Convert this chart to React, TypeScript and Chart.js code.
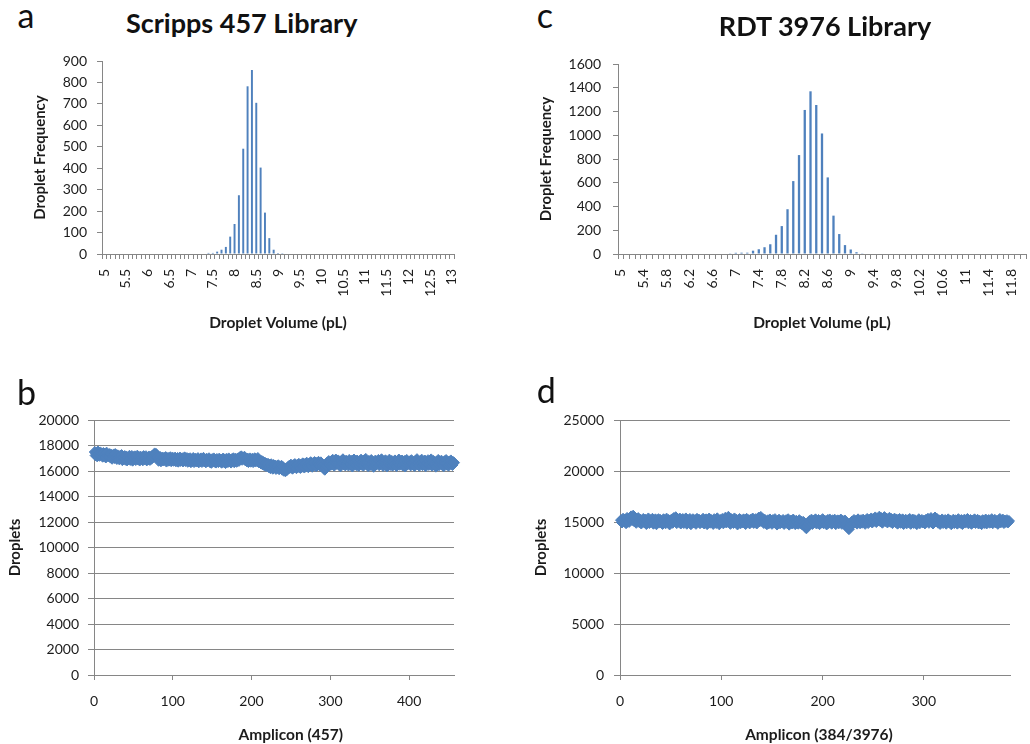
import React, { useEffect, useRef } from "react";
import { Chart, registerables } from "chart.js";

Chart.register(...registerables);

const BLUE = "#4F81BD";
const AXIS = "#868686";
const INK = "#1c1c1c";
const FONT = "Lato, 'Open Sans', sans-serif";

Chart.defaults.font.family = FONT;
Chart.defaults.color = INK;

// ---------- Panel a: Scripps 457 Library, droplet volume histogram ----------
const volumeA = [
  5, 5.1, 5.2, 5.3, 5.4, 5.5, 5.6, 5.7, 5.8, 5.9,
  6, 6.1, 6.2, 6.3, 6.4, 6.5, 6.6, 6.7, 6.8, 6.9,
  7, 7.1, 7.2, 7.3, 7.4, 7.5, 7.6, 7.7, 7.8, 7.9,
  8, 8.1, 8.2, 8.3, 8.4, 8.5, 8.6, 8.7, 8.8, 8.9,
  9, 9.1, 9.2, 9.3, 9.4, 9.5, 9.6, 9.7, 9.8, 9.9,
  10, 10.1, 10.2, 10.3, 10.4, 10.5, 10.6, 10.7, 10.8, 10.9,
  11, 11.1, 11.2, 11.3, 11.4, 11.5, 11.6, 11.7, 11.8, 11.9,
  12, 12.1, 12.2, 12.3, 12.4, 12.5, 12.6, 12.7, 12.8, 12.9,
  13,
];
const frequencyA = [
  0, 0, 0, 0, 0, 0, 0, 0, 0, 0,
  0, 0, 0, 0, 0, 0, 0, 0, 0, 0,
  0, 0, 0, 0, 5, 5, 11, 20, 33, 81,
  140, 274, 491, 782, 858, 705, 403, 193, 74, 20,
  5, 4, 0, 0, 0, 0, 0, 0, 0, 0,
  0, 0, 0, 0, 0, 0, 0, 0, 0, 0,
  0, 0, 0, 0, 0, 0, 0, 0, 0, 0,
  0, 0, 0, 0, 0, 0, 0, 0, 0, 0,
  0,
];
const labelEveryA = 5;

// ---------- Panel c: RDT 3976 Library, droplet volume histogram ----------
const volumeC = [
  5, 5.1, 5.2, 5.3, 5.4, 5.5, 5.6, 5.7, 5.8, 5.9,
  6, 6.1, 6.2, 6.3, 6.4, 6.5, 6.6, 6.7, 6.8, 6.9,
  7, 7.1, 7.2, 7.3, 7.4, 7.5, 7.6, 7.7, 7.8, 7.9,
  8, 8.1, 8.2, 8.3, 8.4, 8.5, 8.6, 8.7, 8.8, 8.9,
  9, 9.1, 9.2, 9.3, 9.4, 9.5, 9.6, 9.7, 9.8, 9.9,
  10, 10.1, 10.2, 10.3, 10.4, 10.5, 10.6, 10.7, 10.8, 10.9,
  11, 11.1, 11.2, 11.3, 11.4, 11.5, 11.6, 11.7, 11.8, 11.9,
  12,
];
const frequencyC = [
  0, 0, 0, 0, 0, 0, 0, 0, 0, 0,
  0, 0, 0, 0, 0, 0, 0, 4, 0, 6,
  10, 11, 11, 28, 40, 57, 82, 162, 235, 377,
  614, 833, 1213, 1370, 1255, 1015, 645, 323, 168, 75,
  38, 15, 6, 0, 0, 0, 0, 0, 0, 0,
  0, 0, 0, 0, 0, 0, 0, 0, 0, 0,
  0, 0, 0, 0, 0, 0, 0, 0, 0, 0,
  0,
];
const labelEveryC = 4;

// ---------- Panel b: droplets per amplicon (457 amplicons) ----------
const dropletsB = [
  17490, 17220, 17400, 17150, 17530, 17300, 17190, 17460, 17280, 17380,
  17120, 17410, 17230, 17350, 17060, 17440, 17200, 17300, 17150, 17330,
  17050, 17270, 16960, 17190, 17300, 17020, 17330, 17110, 16940, 17230,
  17080, 16920, 17180, 17010, 17250, 16850, 17100, 16960, 17170, 16880,
  17140, 16830, 17060, 16950, 17190, 16870, 17020, 17180, 16810, 17090,
  16940, 17150, 16860, 17030, 17200, 16900, 17080, 16820, 17130, 16970,
  17060, 16840, 17170, 16920, 17010, 17160, 16830, 17050, 16910, 17140,
  16870, 17090, 16960, 17200, 17100, 17280, 17380, 17220, 17330, 17150,
  17050, 16800, 16990, 17100, 16760, 16930, 17060, 16820, 17010, 16880,
  17090, 16740, 16950, 17030, 16810, 16980, 17080, 16770, 16920, 17040,
  16800, 16970, 17050, 16760, 16900, 17020, 16730, 16950, 17060, 16790,
  16880, 17000, 16750, 16930, 17070, 16780, 16850, 17010, 16720, 16960,
  16800, 17000, 16690, 16910, 16780, 17020, 16700, 16880, 16960, 16740,
  16850, 17010, 16680, 16900, 16770, 16990, 16710, 16870, 17030, 16750,
  16880, 16680, 16960, 16770, 16850, 17000, 16700, 16890, 16640, 16930,
  16780, 16990, 16720, 16860, 16660, 16940, 16800, 16700, 16970, 16760,
  16900, 16650, 16840, 16980, 16710, 16870, 16620, 16950, 16790, 16700,
  16990, 16740, 16880, 16660, 16930, 16780, 17000, 16690, 16850, 16960,
  16720, 16880, 16990, 16790, 17080, 16950, 17150, 16880, 17060, 16970,
  17120, 16840, 16930, 16760, 16980, 16700, 16870, 16990, 16730, 16900,
  16960, 16700, 16850, 17000, 16740, 16910, 16800, 17020, 16690, 16840,
  16720, 16590, 16780, 16520, 16700, 16460, 16650, 16400, 16580, 16370,
  16560, 16300, 16480, 16220, 16530, 16350, 16180, 16470, 16290, 16420,
  16160, 16380, 16250, 16450, 16140, 16330, 16230, 16410, 16100, 16300,
  16020, 16200, 15980, 16150, 16080, 16300, 16200, 16420, 16260, 16500,
  16330, 16180, 16460, 16290, 16540, 16350, 16220, 16480, 16310, 16560,
  16380, 16240, 16510, 16330, 16600, 16420, 16270, 16560, 16390, 16650,
  16450, 16300, 16580, 16420, 16690, 16480, 16330, 16610, 16460, 16700,
  16500, 16370, 16640, 16480, 16720, 16530, 16410, 16680, 16560, 16450,
  16300, 16180, 16100, 16250, 16420, 16660, 16530, 16780, 16600, 16480,
  16750, 16500, 16880, 16580, 16420, 16710, 16900, 16560, 16650, 16830,
  16470, 16690, 16370, 16780, 16600, 16920, 16520, 16700, 16440, 16810,
  16580, 16740, 16430, 16870, 16640, 16510, 16790, 16350, 16680, 16900,
  16550, 16720, 16460, 16820, 16610, 16400, 16760, 16570, 16890, 16490,
  16700, 16420, 16830, 16600, 16950, 16530, 16680, 16380, 16790, 16640,
  16480, 16860, 16570, 16720, 16330, 16650, 16810, 16500, 16760, 16590,
  16870, 16450, 16680, 16560, 16920, 16620, 16400, 16750, 16520, 16840,
  16610, 16360, 16710, 16580, 16890, 16470, 16650, 16790, 16420, 16680,
  16550, 16830, 16600, 16380, 16740, 16650, 16900, 16490, 16710, 16570,
  16820, 16430, 16660, 16780, 16350, 16620, 16870, 16510, 16700, 16590,
  16760, 16440, 16850, 16620, 16500, 16710, 16390, 16800, 16580, 16930,
  16530, 16680, 16410, 16770, 16640, 16890, 16460, 16700, 16560, 16820,
  16370, 16690, 16600, 16850, 16480, 16730, 16560, 16910, 16420, 16660,
  16790, 16510, 16640, 16340, 16750, 16590, 16870, 16450, 16700, 16620,
  16810, 16480, 16660, 16380, 16770, 16590, 16860, 16500, 16690, 16420,
  16740, 16560, 16830, 16610, 16470, 16700, 16650,
];
const ampliconMaxB = 457;

// ---------- Panel d: droplets per amplicon (384 of 3976 amplicons) ----------
const dropletsD = [
  15180, 14950, 15320, 15060, 15250, 14880, 15400, 15130, 15010, 15290,
  15550, 15200, 15620, 15080, 15330, 14920, 15170, 15380, 14990, 15240,
  14850, 15150, 15300, 14970, 15220, 14800, 15100, 15350, 14900, 15180,
  15050, 15310, 14830, 15130, 15260, 14780, 15090, 15280, 14940, 15200,
  15030, 14810, 15270, 15100, 14870, 15330, 15000, 15190, 14760, 15120,
  15250, 14920, 15380, 15060, 15470, 14890, 15210, 15020, 15340, 14850,
  15160, 15290, 14900, 15080, 15350, 14830, 15200, 15050, 15300, 14780,
  15130, 15270, 14950, 15180, 14820, 15310, 15070, 15230, 14880, 15150,
  15000, 15320, 14860, 15140, 15260, 14790, 15090, 15340, 14930, 15200,
  15050, 14810, 15280, 15110, 14900, 15360, 15020, 14770, 15190, 15080,
  15300, 14870, 15150, 15420, 14950, 15240, 15510, 15060, 14820, 15280,
  15130, 14900, 15350, 15010, 15220, 14760, 15100, 15290, 14880, 15170,
  14950, 15260, 15080, 14800, 15310, 15040, 15180, 14860, 15230, 15020,
  15340, 14910, 15150, 15280, 14850, 15200, 15430, 15070, 15500, 15120,
  15290, 14900, 15210, 15060, 14780, 15170, 14880, 15250, 15000, 14820,
  15190, 14940, 15280, 15050, 14750, 15130, 15230, 14870, 15080, 14960,
  15200, 14810, 15060, 15180, 14900, 15270, 14740, 15020, 15150, 14850,
  15240, 14960, 14790, 15120, 15000, 14830, 15180, 14890, 15050, 14760,
  15010, 14700, 14520, 14380, 14600, 14870, 15100, 14920, 15230, 14810,
  15150, 14980, 15260, 14850, 15070, 15200, 14790, 15110, 14940, 15280,
  14880, 15140, 15020, 14760, 15190, 14910, 15250, 15030, 14830, 15170,
  14950, 15220, 14790, 15080, 15160, 14870, 15000, 15240, 14820, 15090,
  14920, 15150, 14780, 14600, 14450, 14300, 14550, 14800, 15050, 14890,
  15200, 14960, 15120, 14840, 15260, 15010, 14870, 15180, 14930, 15230,
  15050, 14820, 15170, 15300, 14900, 15210, 15060, 15350, 14950, 15280,
  15120, 15450, 15000, 15320, 15180, 15520, 15070, 15380, 14930, 15260,
  15480, 15100, 15340, 14960, 15230, 15410, 15020, 15290, 14890, 15180,
  15330, 15000, 15250, 14840, 15150, 15300, 14920, 15120, 15260, 14800,
  15090, 15220, 14870, 15160, 14980, 15300, 14820, 15110, 15240, 14900,
  15180, 15030, 14790, 15140, 15270, 14880, 15060, 15200, 14950, 15130,
  14860, 15210, 15040, 15320, 14920, 15170, 15390, 15010, 14850, 15230,
  15440, 15080, 15290, 14930, 15160, 14810, 15120, 15250, 14900, 15070,
  15190, 14830, 15100, 15260, 14950, 15140, 14780, 15050, 15220, 14890,
  15170, 15010, 14840, 15280, 15060, 14920, 15190, 14800, 15100, 15230,
  14940, 15120, 15300, 14870, 15050, 15200, 14820, 15150, 14980, 15260,
  14900, 15090, 15210, 14850, 15130, 15030, 14790, 15180, 15060, 14910,
  15240, 14860, 15070, 15190, 14930, 15120, 15280, 14880, 15040, 15210,
  14950, 15100, 14820, 15170, 15300, 14970, 15080, 15230, 14900, 15140,
  15010, 15180, 14960, 15100,
];
const ampliconMaxD = 385;

// ---------- helpers ----------
function fixBox(width?: number, height?: number) {
  return (s: any) => {
    if (width !== undefined) s.width = width;
    if (height !== undefined) s.height = height;
    s.paddingLeft = 0;
    s.paddingRight = 0;
    s.paddingTop = 0;
    s.paddingBottom = 0;
  };
}

const TITLE_FONT = { size: 15, weight: "bold" as const };

type HistOpts = {
  labels: number[];
  values: number[];
  labelEvery: number;
  yMax: number;
  yStep: number;
  yWidth: number;
  xHeight: number;
  padTop: number;
  padRight: number;
  yTickPad: number;
  yTitlePad: number;
  barPct: number;
};

function histogramConfig(p: HistOpts): any {
  return {
    type: "bar",
    data: {
      labels: p.labels.map((v) => String(v)),
      datasets: [
        {
          data: p.values,
          backgroundColor: BLUE,
          borderWidth: 0,
          barPercentage: p.barPct,
          categoryPercentage: 1,
        },
      ],
    },
    options: {
      animation: false,
      responsive: false,
      events: [],
      layout: { padding: { left: 0, top: p.padTop, right: p.padRight, bottom: 0 } },
      plugins: { legend: { display: false }, tooltip: { enabled: false }, title: { display: false } },
      scales: {
        x: {
          type: "category",
          offset: true,
          grid: {
            display: true,
            offset: true,
            drawOnChartArea: false,
            drawTicks: true,
            tickLength: 5,
            color: AXIS,
          },
          border: { display: true, color: AXIS },
          ticks: {
            autoSkip: false,
            maxRotation: 90,
            minRotation: 90,
            padding: 10,
            color: INK,
            font: { size: 14 },
            callback: (_v: any, i: number) => (i % p.labelEvery === 0 ? String(p.labels[i]) : ""),
          },
          title: {
            display: true,
            text: "Droplet Volume (pL)",
            color: INK,
            font: { size: 15.5, weight: "bold" },
            padding: { top: 0, bottom: 8 },
          },
          afterFit: fixBox(undefined, p.xHeight),
        },
        y: {
          min: 0,
          max: p.yMax,
          grid: { display: true, drawOnChartArea: false, drawTicks: true, tickLength: 5, color: AXIS },
          border: { display: true, color: AXIS },
          ticks: {
            stepSize: p.yStep,
            padding: p.yTickPad,
            color: INK,
            font: { size: 14 },
            callback: (v: any) => String(v),
          },
          title: {
            display: true,
            text: "Droplet Frequency",
            color: INK,
            font: TITLE_FONT,
            padding: { top: p.yTitlePad, bottom: 0 },
          },
          afterFit: fixBox(p.yWidth, undefined),
        },
      },
    },
  };
}

type ScatterOpts = {
  values: number[];
  xMax: number;
  yMax: number;
  yStep: number;
  yWidth: number;
  xHeight: number;
  padTop: number;
  padRight: number;
  yTickPad: number;
  yTitlePad: number;
};

function scatterConfig(p: ScatterOpts): any {
  return {
    type: "scatter",
    data: {
      datasets: [
        {
          data: p.values.map((v, i) => ({ x: i + 1, y: v })),
          pointStyle: "rectRot",
          pointRadius: 5.5,
          pointBackgroundColor: BLUE,
          pointBorderColor: BLUE,
          pointBorderWidth: 1,
          showLine: false,
          clip: false,
        },
      ],
    },
    options: {
      animation: false,
      responsive: false,
      events: [],
      layout: { padding: { left: 0, top: p.padTop, right: p.padRight, bottom: 0 } },
      plugins: { legend: { display: false }, tooltip: { enabled: false }, title: { display: false } },
      scales: {
        x: {
          type: "linear",
          min: 0,
          max: p.xMax,
          grid: { display: true, drawOnChartArea: false, drawTicks: true, tickLength: 5, color: AXIS },
          border: { display: true, color: AXIS },
          ticks: {
            stepSize: 100,
            padding: 13,
            color: INK,
            font: { size: 14 },
            callback: (v: any) => String(v),
          },
          afterBuildTicks: (s: any) => {
            s.ticks = s.ticks.filter((t: any) => t.value % 100 === 0);
          },
          afterFit: fixBox(undefined, p.xHeight),
        },
        y: {
          min: 0,
          max: p.yMax,
          grid: { display: true, drawOnChartArea: true, drawTicks: true, tickLength: 6, color: AXIS },
          border: { display: true, color: AXIS },
          ticks: {
            stepSize: p.yStep,
            padding: p.yTickPad,
            color: INK,
            font: { size: 14 },
            callback: (v: any) => String(v),
          },
          title: {
            display: true,
            text: "Droplets",
            color: INK,
            font: TITLE_FONT,
            padding: { top: p.yTitlePad, bottom: 0 },
          },
          afterFit: fixBox(p.yWidth, undefined),
        },
      },
    },
  };
}

function ChartBox(props: { make: () => any; left: number; top: number; width: number; height: number }) {
  const ref = useRef<HTMLCanvasElement | null>(null);
  useEffect(() => {
    const chart = new Chart(ref.current as HTMLCanvasElement, props.make());
    return () => chart.destroy();
  }, []);
  return (
    <canvas
      ref={ref}
      width={props.width}
      height={props.height}
      style={{ position: "absolute", left: props.left, top: props.top, width: props.width, height: props.height }}
    />
  );
}

function Text(props: { children: any; left: number; top: number; width?: number; size: number; bold?: boolean; align?: any }) {
  return (
    <div
      style={{
        position: "absolute",
        left: props.left,
        top: props.top,
        width: props.width,
        fontFamily: FONT,
        fontSize: props.size,
        fontWeight: props.bold ? 700 : 400,
        lineHeight: 1,
        color: "#111",
        textAlign: props.align || "left",
        whiteSpace: "nowrap",
      }}
    >
      {props.children}
    </div>
  );
}

const xTitleStyle: any = {
  position: "absolute",
  width: 240,
  height: 20,
  lineHeight: "20px",
  textAlign: "center",
  fontFamily: FONT,
  fontSize: 15.5,
  fontWeight: 700,
  color: INK,
  whiteSpace: "nowrap",
};

export default function App() {
  return (
    <div style={{ position: "absolute", left: 0, top: 0, width: 1030, height: 744, background: "#fff", overflow: "hidden" }}>
      <ChartBox
        left={0}
        top={40}
        width={470}
        height={300}
        make={() =>
          histogramConfig({
            labels: volumeA,
            values: frequencyA,
            labelEvery: labelEveryA,
            yMax: 900,
            yStep: 100,
            yWidth: 102,
            xHeight: 86,
            padTop: 21,
            padRight: 16,
            yTickPad: 10,
            yTitlePad: 31.5,
            barPct: 0.45,
          })
        }
      />
      <ChartBox
        left={520}
        top={40}
        width={510}
        height={300}
        make={() =>
          histogramConfig({
            labels: volumeC,
            values: frequencyC,
            labelEvery: labelEveryC,
            yMax: 1600,
            yStep: 200,
            yWidth: 98,
            xHeight: 86,
            padTop: 24,
            padRight: 4,
            yTickPad: 12,
            yTitlePad: 17.5,
            barPct: 0.4,
          })
        }
      />
      <ChartBox
        left={0}
        top={340}
        width={470}
        height={404}
        make={() =>
          scatterConfig({
            values: dropletsB,
            xMax: ampliconMaxB,
            yMax: 20000,
            yStep: 2000,
            yWidth: 94,
            xHeight: 69,
            padTop: 80,
            padRight: 16,
            yTickPad: 9,
            yTitlePad: 6.5,
          })
        }
      />
      <ChartBox
        left={520}
        top={340}
        width={510}
        height={404}
        make={() =>
          scatterConfig({
            values: dropletsD,
            xMax: ampliconMaxD,
            yMax: 25000,
            yStep: 5000,
            yWidth: 100,
            xHeight: 69,
            padTop: 80,
            padRight: 20,
            yTickPad: 10,
            yTitlePad: 12.5,
          })
        }
      />

      <Text left={17.6} top={-1.9} size={34}>a</Text>
      <Text left={536.8} top={-1.9} size={34}>c</Text>
      <Text left={17} top={374.8} size={34}>b</Text>
      <Text left={536.8} top={373.1} size={34}>d</Text>

      <Text left={41.7} top={8.8} width={400} size={27} bold align="center">Scripps 457 Library</Text>
      <Text left={625} top={12} width={400} size={27} bold align="center">RDT 3976 Library</Text>

      <div style={{ ...xTitleStyle, left: 290.7 - 120, top: 723.5 }}>Amplicon (457)</div>
      <div style={{ ...xTitleStyle, left: 819 - 120, top: 723.5 }}>Amplicon (384/3976)</div>
    </div>
  );
}
